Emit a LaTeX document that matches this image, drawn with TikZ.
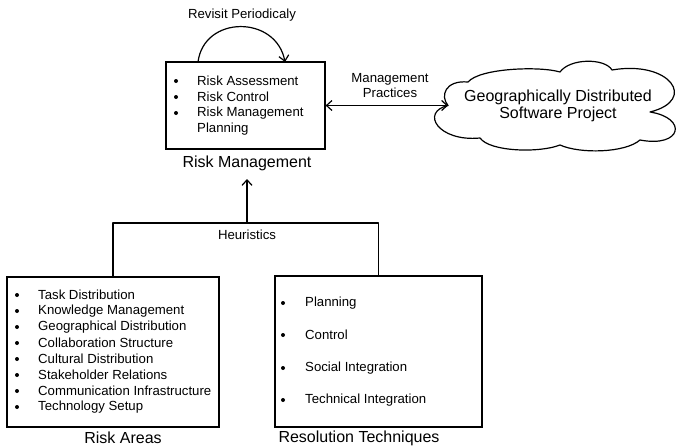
\documentclass[tikz,border=0pt]{standalone}
\usepackage{fontspec}
\setmainfont{Liberation Sans}
\usetikzlibrary{arrows.meta}
\begin{document}
\begin{tikzpicture}[x=1pt,y=1pt,
  >={Straight Barb[length=5.5pt,width=10pt,line width=1.2pt]},
  conn/.style={line width=1.2pt, line join=round},
  box/.style={draw, line width=1.2pt, rectangle, inner sep=0pt},
  item/.style={anchor=west, inner sep=0pt, font=\fontsize{13.2}{16}\selectfont},
  small/.style={inner sep=0pt, font=\fontsize{13.2}{16}\selectfont, align=center},
  big/.style={inner sep=0pt, font=\fontsize{16}{19}\selectfont, align=center}]
\useasboundingbox (0,0) rectangle (676,-447);

% ---------- Risk Management box ----------
\node[box, minimum width=159pt, minimum height=87pt] (rm) at (245.5,-105.5) {};
\fill (176,-81) circle (2);
\fill (176,-97) circle (2);
\fill (176,-113) circle (2);
\node[item] (rm1) at (197,-81) {Risk Assessment};
\node[item] (rm2) at (197,-97) {Risk Control};
\node[item] (rm3) at (197,-113) {Risk Management};
\node[item] (rm4) at (197,-129) {Planning};
\node[big] (rmlab) at (247,-163) {Risk Management};

% Revisit loop
\coordinate (lpS) at (198,-62);
\coordinate (lpE) at (285,-62);
\draw[conn, ->] (lpS) .. controls (204,-15) and (276,-15) .. (lpE);
\node[small] (rev) at (242,-15) {Revisit Periodicaly};

% ---------- Cloud ----------
\coordinate (cloudin) at (448,-105.5);
\draw[line width=1.2pt, line join=round]
  (cloudin) .. controls (440,-96) and (445,-80) .. (468,-82)
  .. controls (480,-68) and (540,-66) .. (560,-72)
  .. controls (570,-58) and (605,-58) .. (612,-70)
  .. controls (670,-60) and (698,-100) .. (650,-112)
  .. controls (688,-118) and (682,-148) .. (640,-140)
  .. controls (625,-153) and (580,-154) .. (560,-145)
  .. controls (540,-153) and (490,-152) .. (480,-138)
  .. controls (438,-142) and (420,-112) .. (cloudin) -- cycle;
\node[big] (gdsp) at (558,-106) {Geographically Distributed\\[-2.5pt]Software Project};

% Management practices
\draw[conn, <->] (rm.east) -- (cloudin);
\node[small] (mp) at (390,-85.5) {Management\\[-1pt]Practices};

% ---------- Bottom boxes ----------
\node[box, minimum width=212pt, minimum height=150pt] (ra) at (113,-352) {};
\node[box, minimum width=207pt, minimum height=151pt] (rt) at (378.5,-351.5) {};

\foreach \t [count=\i from 0] in {Task Distribution, Knowledge Management,
  Geographical Distribution, Collaboration Structure, Cultural Distribution,
  Stakeholder Relations, Communication Infrastructure, Technology Setup}{
  \fill (17,-295-16*\i) circle (2);
  \node[item] (ra\i) at (38,-295-16*\i) {\t};
}
\node[big] (ralab) at (123,-438) {Risk Areas};

\foreach \t/\y [count=\i] in {Planning/303, Control/335, Social Integration/368, Technical Integration/400}{
  \fill (283,-\y) circle (2);
  \node[item] (rt\i) at (305,-\y) {\t};
}
\node[big] (rtlab) at (359,-438) {Resolution Techniques};

% Heuristics connector
\coordinate (hub) at (247,-223);
\coordinate (rmtip) at (247,-179);
\draw[conn] (ra.north) |- (hub) -| (rt.north);
\draw[conn, ->] (hub) -- (rmtip);
\node[small] (heur) at (247,-235) {Heuristics};
\end{tikzpicture}
\end{document}
